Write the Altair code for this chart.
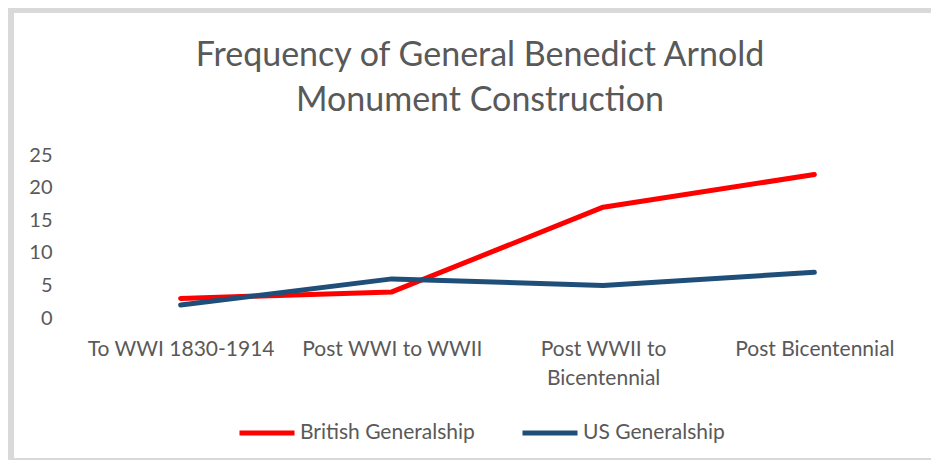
import altair as alt
import pandas as pd

periods = ["To WWI 1830-1914", "Post WWI to WWII", "Post WWII to Bicentennial", "Post Bicentennial"]
british = [3, 4, 17, 22]
us = [2, 6, 5, 7]
series_names = ["British Generalship", "US Generalship"]
series_colors = ["#FF0000", "#1F4E79"]
title_lines = ["Frequency of General Benedict Arnold", "Monument Construction"]

rows = []
for p, b, u in zip(periods, british, us):
    rows.append({"period": p, "series": series_names[0], "value": b})
    rows.append({"period": p, "series": series_names[1], "value": u})
df = pd.DataFrame(rows)

FONT = "Lato"
GRAY = "#595959"
W, H = 845, 163

lines = alt.Chart(df).mark_line(strokeWidth=5, strokeCap="round", strokeJoin="round").encode(
    x=alt.X("period:N", sort=periods,
            scale=alt.Scale(type="point", padding=0.5),
            axis=alt.Axis(title=None, domain=False, ticks=False, labelAngle=0,
                          labelFont=FONT, labelFontSize=21, labelColor=GRAY,
                          labelPadding=20, labelLineHeight=29, labelLimit=0,
                          labelExpr="datum.label == 'Post WWII to Bicentennial' ? ['Post WWII to', 'Bicentennial'] : datum.label")),
    y=alt.Y("value:Q", scale=alt.Scale(domain=[0, 25]),
            axis=alt.Axis(title=None, values=[0, 5, 10, 15, 20, 25], domain=False, ticks=False,
                          labelFont=FONT, labelFontSize=20, labelColor=GRAY, labelPadding=23,
                          gridColor="#d9d9d9", gridWidth=1.5)),
    color=alt.Color("series:N", sort=series_names,
                    scale=alt.Scale(domain=series_names, range=series_colors),
                    legend=alt.Legend(title=None, orient="none", direction="horizontal",
                                      legendX=162, legendY=248,
                                      symbolType="stroke", symbolSize=3025, symbolStrokeWidth=5,
                                      labelFont=FONT, labelFontSize=21, labelColor=GRAY,
                                      labelLimit=0, labelOffset=3, columnPadding=37)),
    order=alt.Order("series:N")
)

title_df = pd.DataFrame({"line": title_lines, "idx": [0, 1]})
title = alt.Chart(title_df).mark_text(font=FONT, fontSize=34, color=GRAY, baseline="middle", align="center").encode(
    x=alt.value(405),
    y=alt.Y("idx:Q", scale=alt.Scale(domain=[0, 1], range=[-99, -54]), axis=None),
    text="line:N"
)

border_df = pd.DataFrame({"k": [0]})
left_border = alt.Chart(border_df).mark_rule(color="#d9d9d9", strokeWidth=6).encode(
    x=alt.value(-64), y=alt.value(-147), y2=alt.value(310))
top_border = alt.Chart(border_df).mark_rule(color="#d9d9d9", strokeWidth=6).encode(
    x=alt.value(-67), x2=alt.value(880), y=alt.value(-145))
bottom_border = alt.Chart(border_df).mark_rule(color="#d9d9d9", strokeWidth=2).encode(
    x=alt.value(-64), x2=alt.value(880), y=alt.value(304))

chart = alt.layer(left_border, top_border, bottom_border, title, lines).resolve_scale(y="independent").properties(
    width=W, height=H,
    autosize=alt.AutoSizeParams(type="none"),
    padding={"left": 67, "top": 147, "right": 11, "bottom": 142},
).configure_view(stroke=None)

chart.save("out.html", embed_options={"renderer": "svg", "actions": False})
